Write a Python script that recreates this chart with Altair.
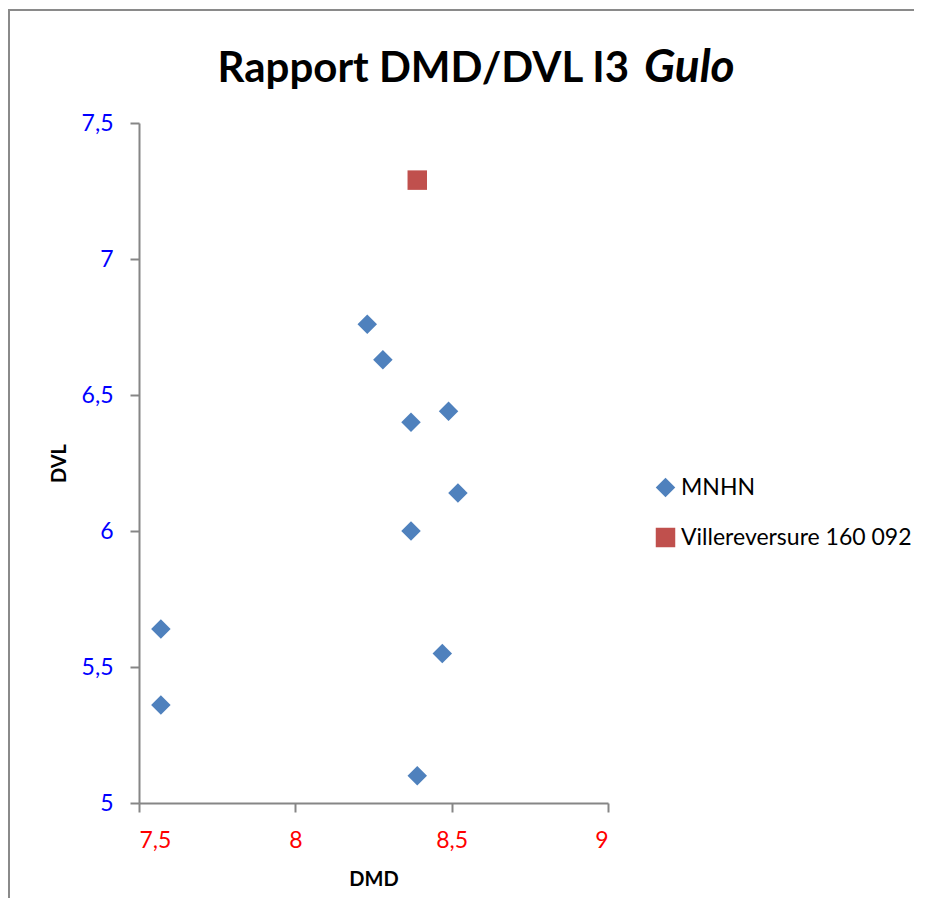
import altair as alt
import pandas as pd

series_names = ["MNHN", "Villereversure 160 092"]
mnhn_dmd = [8.23, 8.28, 8.49, 8.37, 8.52, 8.37, 7.57, 8.47, 7.57, 8.39]
mnhn_dvl = [6.76, 6.63, 6.44, 6.40, 6.14, 6.00, 5.64, 5.55, 5.36, 5.10]
vill_dmd = [8.39]
vill_dvl = [7.29]

x_ticks = [7.5, 8, 8.5, 9]
y_ticks = [5, 5.5, 6, 6.5, 7, 7.5]

df = pd.DataFrame({
    "DMD": mnhn_dmd + vill_dmd,
    "DVL": mnhn_dvl + vill_dvl,
    "serie": [series_names[0]] * len(mnhn_dmd) + [series_names[1]] * len(vill_dmd),
})

FONT = "Lato"

points = alt.Chart(df).mark_point(filled=True, opacity=1, size=380).encode(
    x=alt.X("DMD:Q", scale=alt.Scale(domain=[7.5, 9], nice=False, zero=False),
            axis=alt.Axis(values=x_ticks, title="DMD", labelColor="#FF0000",
                          labelExpr="replace(format(datum.value, '.1~f'), '.', ',')",
                          titleY=66, titleBaseline="top", labelPadding=17)),
    y=alt.Y("DVL:Q", scale=alt.Scale(domain=[5, 7.5], nice=False, zero=False),
            axis=alt.Axis(values=y_ticks, title="DVL", labelColor="#0000FF",
                          labelExpr="replace(format(datum.value, '.1~f'), '.', ',')",
                          titleX=-80, titleBaseline="middle", labelPadding=17)),
    color=alt.Color("serie:N", scale=alt.Scale(domain=series_names, range=["#4F81BD", "#C0504D"]),
                    legend=alt.Legend(title=None, orient="none", legendX=515, legendY=353,
                                      labelFontSize=23, labelFont=FONT, labelColor="#000000",
                                      labelLimit=400, symbolSize=380, rowPadding=26, labelOffset=4,
                                      symbolStrokeWidth=0, symbolOpacity=1)),
    shape=alt.Shape("serie:N", scale=alt.Scale(domain=series_names, range=["diamond", "square"]),
                    legend=None),
)

frame_df = pd.DataFrame({"k": [0]})
frame_top = alt.Chart(frame_df).mark_rect(fill="#8a8a8a", strokeWidth=0).encode(
    x=alt.value(-131), x2=alt.value(790), y=alt.value(-114), y2=alt.value(-112)
)
frame_left = alt.Chart(frame_df).mark_rect(fill="#8a8a8a", strokeWidth=0).encode(
    x=alt.value(-131), x2=alt.value(-129), y=alt.value(-114), y2=alt.value(790)
)

title_df = pd.DataFrame({"t1": ["Rapport DMD/DVL I3"], "t2": ["Gulo"]})
title1 = alt.Chart(title_df).mark_text(font=FONT, fontSize=42, fontWeight="bold", align="right",
                                       baseline="alphabetic", color="#000000").encode(
    x=alt.value(490), y=alt.value(-41), text="t1:N")
title2 = alt.Chart(title_df).mark_text(font=FONT, fontSize=46, fontWeight="bold", fontStyle="italic",
                                       align="left", baseline="alphabetic", color="#000000").encode(
    x=alt.value(505), y=alt.value(-41), text="t2:N")

chart = alt.layer(frame_top, frame_left, points, title1, title2).properties(
    width=469, height=680,
    autosize=alt.AutoSizeParams(type="none"),
    padding={"left": 131, "top": 115, "right": 306, "bottom": 95},
).configure_view(stroke=None).configure_axis(
    grid=False, domainColor="#868686", domainWidth=2, tickColor="#868686", tickWidth=2,
    tickSize=9, labelFont=FONT, labelFontSize=23, titleFont=FONT, titleFontSize=20,
    titleFontWeight="bold", titleColor="#000000",
)

chart.save("out.html", embed_options={"renderer": "svg", "actions": False})
